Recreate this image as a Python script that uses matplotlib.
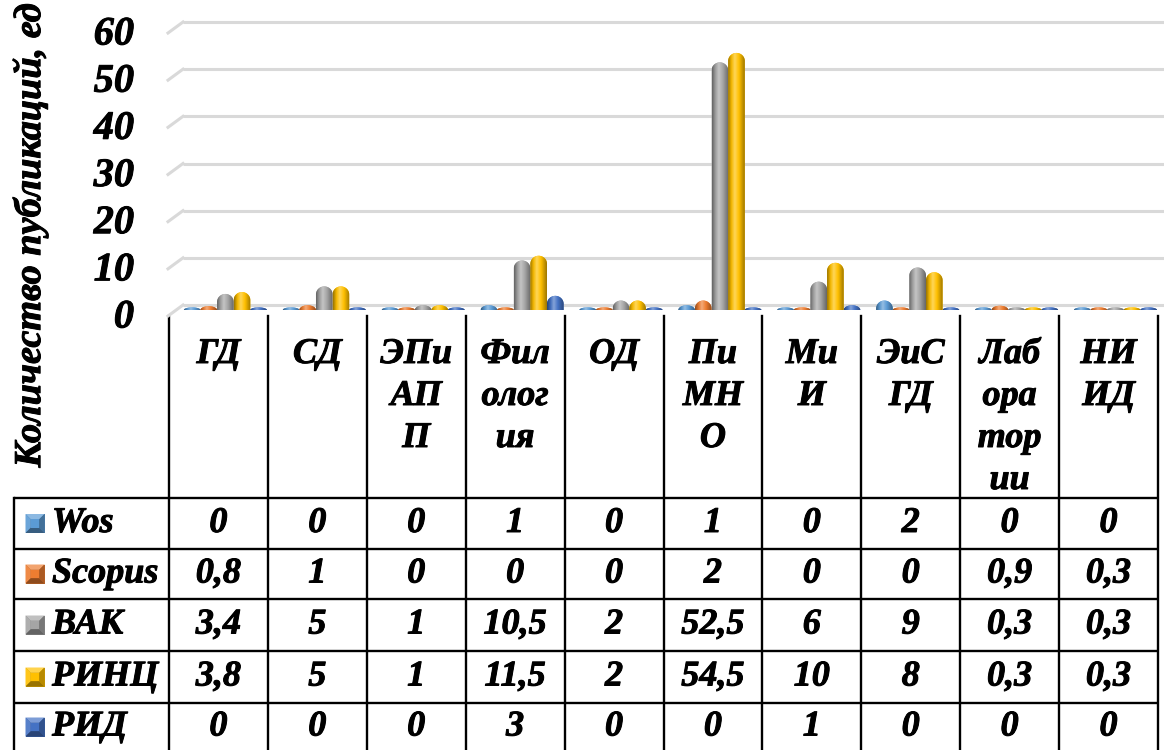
import numpy as np
import matplotlib
matplotlib.use("Agg")
import matplotlib.pyplot as plt
from matplotlib.path import Path
from matplotlib.patches import PathPatch, Rectangle, Polygon
from matplotlib.colors import LinearSegmentedColormap, to_rgb
from matplotlib import transforms
import matplotlib.patheffects as pe

# ---------------- data ----------------
categories = ["ГД", "СД", "ЭПи\nАП\nП", "Фил\nолог\nия", "ОД", "Пи\nМН\nО",
              "Ми\nИ", "ЭиС\nГД", "Лаб\nора\nтор\nии", "НИ\nИД"]
series_names = ["Wos", "Scopus", "ВАК", "РИНЦ", "РИД"]
wos    = [0, 0, 0, 1, 0, 1, 0, 2, 0, 0]
scopus = [0.8, 1, 0, 0, 0, 2, 0, 0, 0.9, 0.3]
vak    = [3.4, 5, 1, 10.5, 2, 52.5, 6, 9, 0.3, 0.3]
rinc   = [3.8, 5, 1, 11.5, 2, 54.5, 10, 8, 0.3, 0.3]
rid    = [0, 0, 0, 3, 0, 0, 1, 0, 0, 0]
y_ticks = [0, 10, 20, 30, 40, 50, 60]
y_label = "Количество публикаций, ед"
colors = ["#5B9BD5", "#ED7D31", "#A5A5A5", "#FFC000", "#4472C4"]
series = [wos, scopus, vak, rinc, rid]

def fmt(v):
    return ("%g" % v).replace(".", ",")

W, H = 1164, 750
fig = plt.figure(figsize=(W / 100, H / 100), dpi=100)
FONT = dict(family="Liberation Serif", weight="bold", style="italic",
            path_effects=[pe.withStroke(linewidth=0.7, foreground="black")])

# overlay axes in pixel coordinates for the table
ov = fig.add_axes([0, 0, 1, 1], zorder=0)
ov.set_xlim(0, W)
ov.set_ylim(H, 0)
ov.axis("off")

# geometry
x0 = 169.0
colw = 98.9
ncol = len(categories)
base_px = 310.0
top_px = 27.0
ppu = (base_px - top_px) / 60.0

ax = fig.add_axes([x0 / W, (H - base_px) / H, (W - x0) / W, (base_px - top_px) / H], zorder=1)
ax.set_xlim(0, (W - x0) / colw)
ax.set_ylim(0, 60)
ax.axis("off")
ax.patch.set_visible(False)

# gridlines (back wall, shifted up 5px) with perspective slant on the left
for v in y_ticks:
    yb = v + 5 / ppu
    ax.plot([14 / colw, (W - x0) / colw], [yb, yb], color="#D9D9D9", lw=2.2,
            solid_capstyle="butt", clip_on=False, zorder=0)
    ax.plot([-1 / colw, 14 / colw], [v - 6 / ppu, yb], color="#D9D9D9", lw=2.2,
            clip_on=False, zorder=0)

# y tick labels
btr = transforms.blended_transform_factory(ax.transAxes, ax.transData)
off = transforms.ScaledTranslation(0, -8 / 100, fig.dpi_scale_trans)
for v in y_ticks:
    ax.text(-35 / (W - x0), v, str(v), transform=btr + off, ha="right", va="center",
            fontsize=29, **FONT)

fig.text(30 / W, (H - 235) / H, y_label, rotation=90, ha="center", va="center",
         fontsize=27.5, **FONT)

# bars
bw = 0.168
step = 0.168
shift = 0.07

def shade(c, f):
    r = np.array(to_rgb(c))
    if f < 1:
        return tuple(r * f)
    return tuple(r + (1 - r) * (f - 1))

def draw_bar(x, v, color):
    cap = 8 / ppu
    bot = 2.6 / ppu
    if v <= 0:
        hr = 0.0
        tc = 2.6 / ppu
    else:
        hr = max(v - cap, 0.0)
        tc = cap if v > cap else max(v, 2.6 / ppu)
    t1 = np.linspace(np.pi, 0, 40)
    t2 = np.linspace(0, -np.pi, 40)
    xs = np.concatenate([[x - bw / 2], x + bw / 2 * np.cos(t1), [x + bw / 2],
                         x + bw / 2 * np.cos(t2)])
    ys = np.concatenate([[0], hr + tc * np.sin(t1), [0], bot * np.sin(t2)])
    path = Path(np.column_stack([xs, ys]))
    patch = PathPatch(path, facecolor=color, edgecolor="none", zorder=2)
    ax.add_patch(patch)
    cmap = LinearSegmentedColormap.from_list(
        "g", [(0, shade(color, 0.6)), (0.2, shade(color, 0.95)), (0.4, shade(color, 1.35)),
              (0.65, shade(color, 1.0)), (1, shade(color, 0.62))])
    im = ax.imshow(np.linspace(0, 1, 64).reshape(1, -1), cmap=cmap, aspect="auto",
                   extent=[x - bw / 2, x + bw / 2, -bot, hr + tc], interpolation="bilinear",
                   zorder=3)
    im.set_clip_path(patch)

for i in range(ncol):
    for j, s in enumerate(series):
        xc = i + 0.5 + shift + (j - 2) * step
        draw_bar(xc, s[i], colors[j])

ax.set_xlim(0, (W - x0) / colw)
ax.set_ylim(0, 60)

# ---------------- table ----------------
lw = 1.7
row_edges = [498, 549, 599, 651, 703, 760]
right = x0 + colw * ncol
for yb in row_edges[:-1]:
    ov.plot([14, right], [yb, yb], color="black", lw=lw, solid_capstyle="butt")
ov.plot([14, 14], [498, H], color="black", lw=lw)
for i in range(ncol + 1):
    xx = x0 + colw * i
    ov.plot([xx, xx], [316, H], color="black", lw=lw)

# header
for i, c in enumerate(categories):
    ov.text(x0 + colw * (i + 0.5), 338, c, ha="center", va="top", fontsize=26,
            linespacing=1.36, **FONT)

# rows with bevelled legend keys
def legend_key(cx, cy, color, s=9.5):
    ov.add_patch(Rectangle((cx - s, cy - s), 2 * s, 2 * s, facecolor=shade(color, 0.8),
                           edgecolor="none"))
    i = s * 0.45
    ov.add_patch(Polygon([(cx - s, cy - s), (cx + s, cy - s), (cx + i, cy - i), (cx - i, cy - i)],
                         facecolor=shade(color, 1.3), edgecolor="none"))
    ov.add_patch(Polygon([(cx - s, cy - s), (cx - s, cy + s), (cx - i, cy + i), (cx - i, cy - i)],
                         facecolor=shade(color, 1.1), edgecolor="none"))
    ov.add_patch(Polygon([(cx - s, cy + s), (cx + s, cy + s), (cx + i, cy + i), (cx - i, cy + i)],
                         facecolor=shade(color, 0.6), edgecolor="none"))
    ov.add_patch(Polygon([(cx + s, cy - s), (cx + s, cy + s), (cx + i, cy + i), (cx + i, cy - i)],
                         facecolor=shade(color, 0.72), edgecolor="none"))
    ov.add_patch(Rectangle((cx - i, cy - i), 2 * i, 2 * i, facecolor=color, edgecolor="none"))

for j, (name, s) in enumerate(zip(series_names, series)):
    yc = (row_edges[j] + row_edges[j + 1]) / 2 if j < 4 else 727
    legend_key(35, yc, colors[j])
    ov.text(52, yc, name, ha="left", va="center", fontsize=26, **FONT)
    for i in range(ncol):
        ov.text(x0 + colw * (i + 0.5), yc, fmt(s[i]), ha="center", va="center",
                fontsize=26, **FONT)

fig.savefig("out.png", dpi=100)
